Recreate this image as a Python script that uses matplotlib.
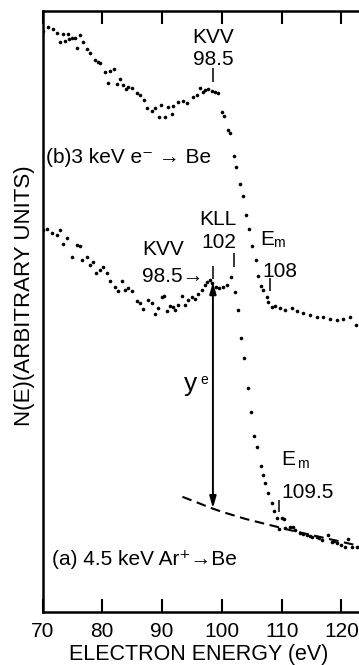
import matplotlib.pyplot as plt

plt.rcParams['font.family'] = ['Liberation Sans', 'DejaVu Sans']
plt.rcParams['lines.scale_dashes'] = False

# (b) 3 keV e- -> Be, N(E) in arbitrary units
energy_b = [70.0, 70.9, 71.8, 72.4, 72.9, 73.4, 73.8, 74.3, 74.4, 74.9, 75.4, 75.8, 76.3, 76.8,
            77.4, 77.9, 78.8, 79.3, 79.6, 80.4, 81.0, 81.3, 82.0, 82.5, 83.0, 83.5, 84.0, 84.3,
            85.0, 85.8, 86.3, 87.0, 87.5, 88.3, 88.8, 89.5, 89.8, 90.5, 91.0, 91.7, 91.8, 92.7,
            93.5, 94.2, 95.2, 95.8, 96.3, 96.8, 97.2, 97.7, 98.3, 98.8, 99.3, 100.0, 100.3, 101.0,
            101.4, 102.0, 102.4, 103.0, 103.5, 104.0, 104.5, 105.0, 105.7, 106.0, 106.5, 106.9,
            107.5, 107.7, 108.4, 108.9, 109.7, 110.5, 111.7, 112.6, 113.6, 114.7, 115.9, 116.9,
            118.1, 119.2, 120.2, 121.4, 122.4]
counts_b = [96.8, 97.5, 97.2, 96.5, 95.0, 96.3, 95.2, 96.3, 95.5, 95.7, 95.7, 94.0, 96.2, 95.0,
            93.8, 93.2, 92.0, 91.7, 91.5, 90.0, 88.2, 90.2, 90.5, 88.0, 88.8, 87.8, 87.2, 87.5,
            87.3, 86.5, 86.2, 85.3, 84.0, 83.5, 84.0, 82.5, 84.5, 82.5, 84.2, 83.0, 84.3, 85.0,
            85.2, 84.8, 85.8, 86.2, 87.3, 86.7, 87.0, 87.2, 86.8, 86.7, 86.5, 83.3, 82.7, 80.3,
            79.8, 76.0, 74.2, 71.3, 69.3, 66.2, 63.8, 61.0, 58.7, 56.0, 54.3, 53.7,
            52.5, 51.7, 50.8, 51.0, 50.7, 50.3, 50.7, 50.2, 49.8, 49.5, 49.2, 49.2,
            48.8, 48.7, 48.8, 49.2, 47.8]

# (a) 4.5 keV Ar+ -> Be
energy_a = [70.0, 70.8, 71.6, 72.4, 72.9, 73.4, 74.1, 74.9, 75.8, 76.3, 76.6, 77.4, 77.9, 78.4,
            78.9, 79.6, 80.1, 80.8, 81.3, 82.1, 82.6, 83.3, 83.8, 84.3, 85.0, 85.8, 86.3, 86.8,
            87.6, 88.3, 88.8, 89.3, 90.0, 90.3, 90.8, 91.3, 91.8, 92.2, 92.7, 93.3, 93.8, 94.3,
            95.0, 95.5, 96.0, 96.7, 97.2, 97.5, 98.0, 98.3, 99.0, 99.5, 100.2, 100.8, 101.5,
            102.2, 102.7, 103.2, 103.7, 104.4, 104.9, 105.4, 105.9, 106.5, 106.9, 107.2, 107.7,
            108.4, 108.7, 109.2, 109.5, 110.0, 110.4, 110.5, 111.4, 111.9, 112.2, 113.1, 113.6,
            114.2, 114.7, 115.1, 115.9, 116.3, 116.7, 117.7, 118.4, 118.8, 119.2, 120.0, 120.6,
            121.1, 121.8, 122.6]
counts_a = [63.7, 63.8, 63.2, 62.8, 63.7, 61.3, 62.3, 59.2, 61.2, 61.0, 58.7, 59.2, 57.8, 58.3,
            56.5, 57.0, 57.5, 56.5, 55.2, 54.2, 53.5, 55.2, 53.7, 54.0, 53.5, 51.8, 51.5, 50.5,
            52.0, 51.5, 49.7, 50.7, 52.5, 52.7, 50.2, 51.0, 50.8, 50.3, 51.2, 52.7, 51.2, 52.0,
            52.5, 52.2, 53.0, 53.7, 54.5, 55.0, 55.3, 54.8, 54.2, 54.0, 54.2, 54.5, 55.8,
            53.3, 50.3, 45.7, 42.3, 37.3, 33.3, 29.3, 27.5, 24.3, 22.8, 21.5, 19.8,
            18.2, 16.8, 15.7, 13.8, 15.7, 15.5, 14.0, 14.2, 14.2, 13.7, 13.2, 13.0,
            12.8, 12.7, 12.5, 12.5, 12.3, 12.0, 12.8, 11.7, 11.8, 11.5, 11.2, 10.8,
            12.2, 10.8, 10.8]

# background under spectrum (a)
energy_bg = [93.4, 96.0, 98.0, 100.0, 104.0, 108.0, 112.0, 116.0, 120.0, 123.0]
counts_bg = [19.2, 18.2, 17.4, 16.7, 15.5, 14.5, 13.5, 12.6, 11.7, 11.0]

x_ticks = [70, 80, 90, 100, 110, 120]

kvv = 98.5
kll = 102
em_b = 108
em_a = 109.5

FS = 15


def bar_mark(ax, x, y0, y1):
    ax.plot([x, x], [y0, y1], color='k', lw=1.1, solid_capstyle='butt')


fig = plt.figure(figsize=(3.59, 6.65), dpi=100)
ax = fig.add_axes([42.5 / 359, 53 / 665, 316.5 / 359, 601 / 665])

ax.plot(energy_b, counts_b, 'o', color='k', ms=2.6, mew=0)
ax.plot(energy_a, counts_a, 'o', color='k', ms=2.6, mew=0)
ax.plot(energy_bg, counts_bg, color='k', lw=1.5, dashes=(7, 4))

ax.set_xlim(70, 122.93)
ax.set_ylim(0, 100.17)
ax.set_xticks(x_ticks)
ax.set_yticks([])
ax.tick_params(axis='x', direction='in', top=True, length=9.5, width=1.5,
               labelsize=FS, pad=7)
ax.spines['right'].set_visible(False)
for side in ('left', 'top', 'bottom'):
    ax.spines[side].set_linewidth(1.8)

# yield arrow between the KVV peak of (a) and the background
ax.annotate('', xy=(kvv, 17.3), xytext=(kvv, 55.0),
            arrowprops=dict(arrowstyle='<|-|>,head_length=0.7,head_width=0.2',
                            lw=1.4, color='k', shrinkA=0, shrinkB=0, mutation_scale=10))

# peak positions of (b)
bar_mark(ax, kvv, 88.3, 90.7)
ax.text(kvv, 94.8, 'KVV', fontsize=FS, ha='center', va='baseline')
ax.text(kvv, 91.2, f'{kvv}', fontsize=FS, ha='center', va='baseline')
bar_mark(ax, em_b, 53.5, 55.7)
ax.text(106.4, 61.2, 'E', fontsize=FS, ha='left', va='baseline')
ax.text(108.6, 60.8, 'm', fontsize=10, ha='left', va='baseline')
ax.text(106.7, 55.8, f'{em_b:g}', fontsize=FS, ha='left', va='baseline')
ax.text(70.6, 74.8, '(b)3 keV e⁻ → Be', fontsize=FS, ha='left', va='baseline')

# peak positions of (a)
bar_mark(ax, kvv, 55.5, 57.7)
ax.text(86.6, 59.5, 'KVV', fontsize=FS, ha='left', va='baseline')
ax.text(86.6, 55.0, f'{kvv}→', fontsize=FS, ha='left', va='baseline')
bar_mark(ax, kll, 57.5, 59.8)
ax.text(99.4, 64.5, 'KLL', fontsize=FS, ha='center', va='baseline')
ax.text(99.5, 60.7, f'{kll:g}', fontsize=FS, ha='center', va='baseline')
bar_mark(ax, em_a, 16.7, 18.7)
ax.text(110.0, 24.5, 'E', fontsize=FS, ha='left', va='baseline')
ax.text(112.5, 24.0, 'm', fontsize=10, ha='left', va='baseline')
ax.text(110.0, 19.0, f'{em_a}', fontsize=FS, ha='left', va='baseline')
ax.text(93.6, 36.9, 'y', fontsize=19, ha='left', va='baseline')
ax.text(96.4, 38.0, 'e', fontsize=10, ha='left', va='baseline')
ax.text(71.6, 7.8, '(a) 4.5 keV Ar⁺→Be', fontsize=FS, ha='left', va='baseline')

fig.text(198.5 / 359, 1 - 660 / 665, 'ELECTRON ENERGY (eV)', fontsize=15.5,
         ha='center', va='baseline')
fig.text(24.5 / 359, 1 - 296 / 665, 'N(E)(ARBITRARY UNITS)', fontsize=16,
         ha='center', va='center', rotation=90)

fig.savefig('out.png', dpi=100)
